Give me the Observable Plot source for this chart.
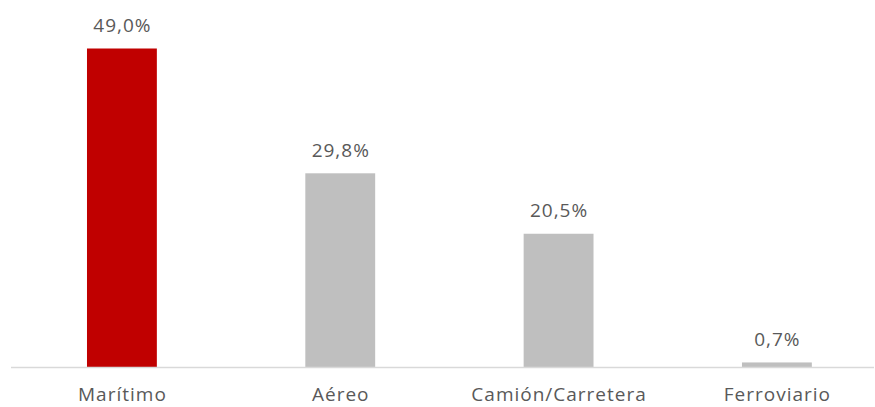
<!DOCTYPE html>
<html>
<head>
<meta charset="utf-8">
<script src="https://cdn.jsdelivr.net/npm/d3@7"></script>
<script src="https://cdn.jsdelivr.net/npm/@observablehq/plot@0.6"></script>
<style>
  html, body { margin: 0; padding: 0; background: #fff; }
  #chart svg { display: block; }
</style>
</head>
<body>
<div id="chart"></div>
<script>
const categories = ["Marítimo", "Aéreo", "Camión/Carretera", "Ferroviario"];
const values = [49.0, 29.8, 20.5, 0.7];
const labels = ["49,0%", "29,8%", "20,5%", "0,7%"];
const barColors = ["#C00000", "#BFBFBF", "#BFBFBF", "#BFBFBF"];

const data = categories.map((c, i) => ({cat: c, value: values[i], label: labels[i], color: barColors[i]}));

const chart = Plot.plot({
  width: 875,
  height: 407,
  marginLeft: 11,
  marginRight: 1,
  marginTop: 42,
  marginBottom: 40,
  style: {fontFamily: "'Open Sans', sans-serif", background: "#fff"},
  x: {domain: categories, paddingInner: 0.68, paddingOuter: 0.3164, align: 0.55, round: false, label: null},
  y: {domain: [0, 50], axis: null},
  marks: [
    Plot.barY(data, {x: "cat", y: "value", fill: "color"}),
    Plot.ruleY([0], {stroke: "#D9D9D9", strokeWidth: 1.5}),
    Plot.text(data, {x: "cat", y: "value", text: "label", lineAnchor: "bottom", dy: -17, fontSize: 19, fill: "#595959"}),
    Plot.axisX({tickSize: 0, tickPadding: 20, fontSize: 19, color: "#595959", label: null})
  ]
});
chart.querySelectorAll("text").forEach(t => t.setAttribute("letter-spacing", "1"));
document.getElementById("chart").appendChild(chart);
</script>
</body>
</html>
